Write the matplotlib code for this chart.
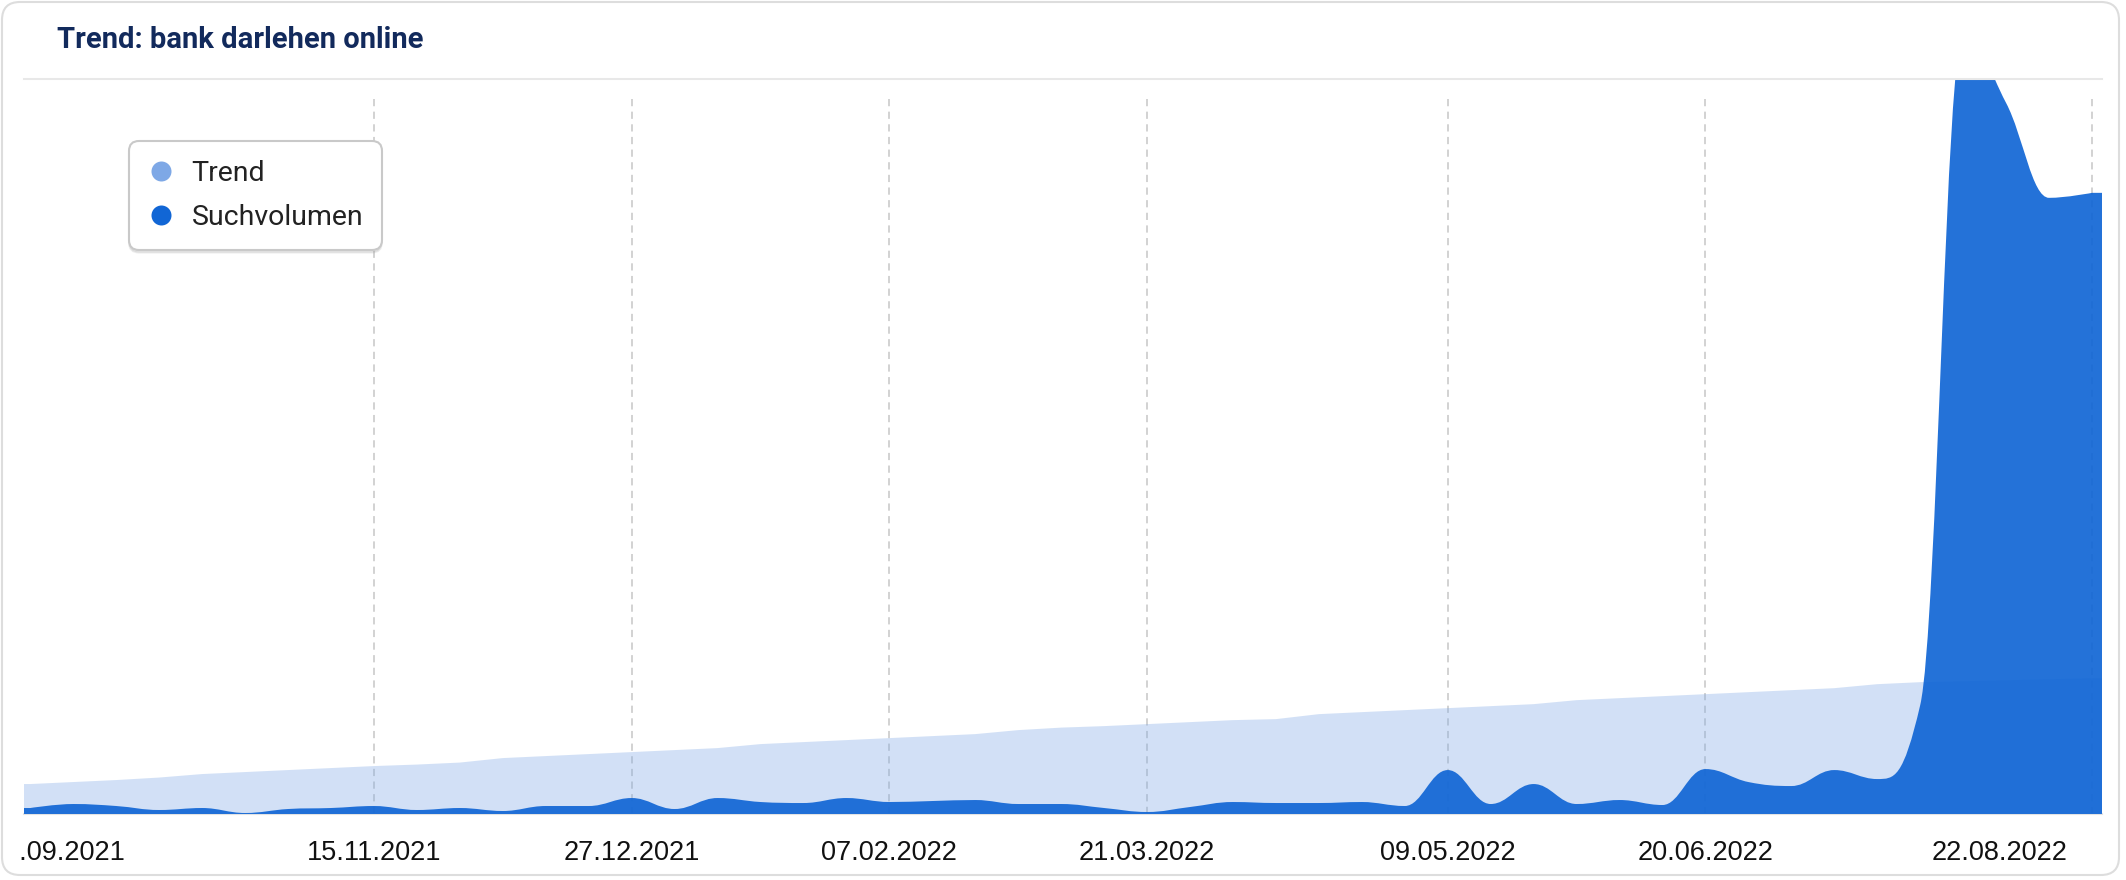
import numpy as np
import pandas as pd
import matplotlib
matplotlib.use('Agg')
import matplotlib.pyplot as plt
import matplotlib.dates as mdates
from matplotlib.path import Path
from matplotlib.patches import PathPatch, FancyBboxPatch
from matplotlib.lines import Line2D
from matplotlib.transforms import ScaledTranslation, IdentityTransform, Bbox

W, H, DPI = 2126, 880, 100

# weekly values, 20.09.2021 .. 22.08.2022
weeks = pd.date_range('2021-09-20', periods=49, freq='7D')

suchvolumen = [6, 10, 8, 4, 6, 1, 5, 6, 8, 4,
               6, 3, 8, 8, 16, 5, 16, 12, 11, 16,
               12, 13, 14, 10, 10, 6, 2, 7, 12, 11,
               11, 12, 8, 44, 10, 30, 10, 14, 9, 45,
               32, 28, 44, 35, 109, 780, 712, 617, 622]

trend = [30, 32, 34, 36.5, 40, 42, 44, 46, 48, 49.5,
         51.5, 56, 58, 60, 62, 64, 66, 70, 72, 74,
         76, 78, 80, 84, 86.5, 88, 90, 92, 94, 95,
         100, 102, 104, 106, 108, 110, 114, 116, 118, 120,
         122, 124, 126, 130, 132, 133, 134, 135, 136]

tick_dates = ['2021-09-20', '2021-11-15', '2021-12-27', '2022-02-07',
              '2022-03-21', '2022-05-09', '2022-06-20', '2022-08-22']

title = 'Trend: bank darlehen online'
series_names = ['Trend', 'Suchvolumen']
colors = ['#7ea8e6', '#1166d5']
y_max = 735


def spline_verts(xs, ys):
    # highcharts-like areaspline control points (smoothing 1.5, no false extremes)
    n = len(xs)
    sm = 1.5
    left, right = [None] * n, [None] * n
    for i in range(1, n - 1):
        px, py = xs[i], ys[i]
        lx, ly = xs[i - 1], ys[i - 1]
        nx_, ny = xs[i + 1], ys[i + 1]
        lcx, lcy = (sm * px + lx) / (sm + 1), (sm * py + ly) / (sm + 1)
        rcx, rcy = (sm * px + nx_) / (sm + 1), (sm * py + ny) / (sm + 1)
        corr = (rcy - lcy) * (rcx - px) / (rcx - lcx) + py - rcy
        lcy += corr
        rcy += corr
        if lcy > ly and lcy > py:
            lcy = max(ly, py); rcy = 2 * py - lcy
        elif lcy < ly and lcy < py:
            lcy = min(ly, py); rcy = 2 * py - lcy
        if rcy > ny and rcy > py:
            rcy = max(ny, py); lcy = 2 * py - rcy
        elif rcy < ny and rcy < py:
            rcy = min(ny, py); lcy = 2 * py - rcy
        left[i] = (lcx, lcy)
        right[i] = (rcx, rcy)
    verts, codes = [], []
    for i in range(1, n):
        c1 = right[i - 1] or (xs[i - 1], ys[i - 1])
        c2 = left[i] or (xs[i], ys[i])
        verts += [c1, c2, (xs[i], ys[i])]
        codes += [Path.CURVE4] * 3
    return verts, codes


def area_path(xs, ys, x0, x1, smooth):
    verts = [(x0, 0), (x0, ys[0]), (xs[0], ys[0])]
    codes = [Path.MOVETO, Path.LINETO, Path.LINETO]
    if smooth:
        v, c = spline_verts(xs, ys)
    else:
        v = list(zip(xs[1:], ys[1:]))
        c = [Path.LINETO] * len(v)
    verts += v + [(x1, ys[-1]), (x1, 0), (x0, 0)]
    codes += c + [Path.LINETO, Path.LINETO, Path.CLOSEPOLY]
    return Path(verts, codes)


plt.rcParams['font.family'] = ['Liberation Sans', 'DejaVu Sans']

fig = plt.figure(figsize=(W / DPI, H / DPI), dpi=DPI, facecolor='white')

# card
card = FancyBboxPatch((2, 5), 2117, 873, boxstyle='round,pad=0,rounding_size=18',
                      transform=IdentityTransform(), facecolor='white',
                      edgecolor='#dddddd', linewidth=1.5, zorder=-1)
fig.add_artist(card)

fig.text(57 / W, 1 - 47.5 / H, title, fontsize=21, fontweight='bold',
         family='Roboto', color='#122a5c', va='baseline', ha='left')
fig.add_artist(Line2D([24 / W, 2102 / W], [1 - 79 / H, 1 - 79 / H],
                      transform=fig.transFigure, color='#e8e8e8', lw=1.5, zorder=5))

ax = fig.add_axes([24 / W, 1 - 814 / H, 2078 / W, 734 / H])
ax.set_facecolor('none')

x = mdates.date2num(weeks)
x_left = x[0] - 1.04
x_right = x[-1] + 1.63

tick_x = mdates.date2num(pd.to_datetime(tick_dates))
for t in tick_x[1:]:
    ax.axvline(t, ymin=0, ymax=(814 - 98) / 734, color='#cfcfcf', lw=1.3,
               ls=(0, (4, 3)), zorder=1)

ax.add_patch(PathPatch(area_path(x, trend, x_left, x_right, False),
                       facecolor=colors[0], alpha=0.35, edgecolor='none', zorder=2))
ax.add_patch(PathPatch(area_path(x, suchvolumen, x_left, x_right, True),
                       facecolor=colors[1], alpha=0.92, edgecolor='none', zorder=3))

ax.set_xlim(x_left, x_right)
ax.set_ylim(0, y_max)
ax.set_yticks([])
for s in ['top', 'left', 'right']:
    ax.spines[s].set_visible(False)
ax.spines['bottom'].set_color('#e3e3e3')
ax.spines['bottom'].set_linewidth(1.5)

ax.set_xticks(tick_x, [d.strftime('%d.%m.%Y') for d in pd.to_datetime(tick_dates)])
ax.tick_params(axis='x', length=0, pad=19, labelsize=19.5, labelcolor='#111111')

labs = ax.get_xticklabels()
# first label sits half outside the card on the left and is cut there
labs[0].set_horizontalalignment('right')
labs[0].set_transform(labs[0].get_transform() + ScaledTranslation(95 / DPI, 0, fig.dpi_scale_trans))
labs[0].set_clip_on(True)
labs[0].set_clip_box(Bbox.from_extents(20, 0, W, H))
labs[-1].set_horizontalalignment('right')
labs[-1].set_transform(labs[-1].get_transform() + ScaledTranslation(-24 / DPI, 0, fig.dpi_scale_trans))

handles = [Line2D([], [], ls='none', marker='o', markersize=14.4,
                  markerfacecolor=c, markeredgecolor='none') for c in colors]
leg = ax.legend(handles, series_names, loc='upper left',
                bbox_to_anchor=(129 / W, 1 - 141 / H), bbox_transform=fig.transFigure,
                borderaxespad=0, prop={'family': 'Roboto', 'size': 20.5},
                handlelength=0.95, handletextpad=0.6, borderpad=0.65, labelspacing=0.62,
                frameon=True, fancybox=True, framealpha=1,
                shadow={'ox': 0, 'oy': -2, 'color': '#999999', 'alpha': 0.2})
leg.get_frame().set_boxstyle('round,pad=0,rounding_size=0.35')
leg.get_frame().set_edgecolor('#c9c9c9')
leg.get_frame().set_linewidth(1.5)
for t in leg.get_texts():
    t.set_color('#222222')
leg.set_zorder(10)

fig.savefig('out.png', dpi=DPI, facecolor='white')
